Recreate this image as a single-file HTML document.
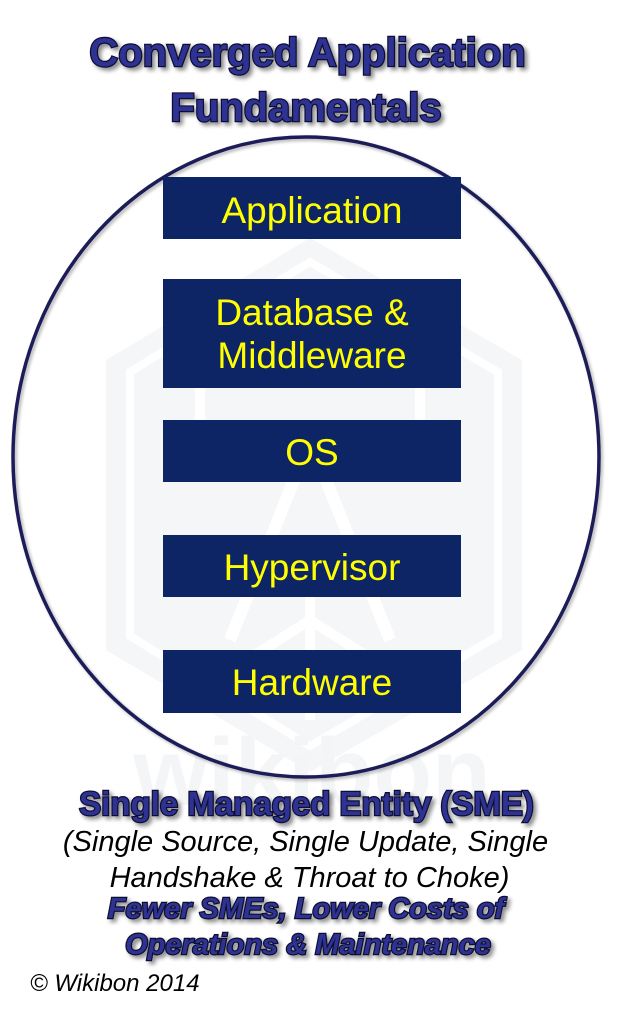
<!DOCTYPE html>
<html>
<head>
<meta charset="utf-8">
<style>
  html, body { margin:0; padding:0; background:#ffffff; }
  body { width:638px; height:1025px; overflow:hidden; }
  svg { display:block; }
</style>
</head>
<body>
<svg width="638" height="1025" viewBox="0 0 638 1025" xmlns="http://www.w3.org/2000/svg">
  <defs>
    <filter id="sh" x="-10%" y="-20%" width="130%" height="160%">
      <feGaussianBlur in="SourceAlpha" stdDeviation="2"/>
      <feOffset dx="3" dy="3" result="b"/>
      <feComponentTransfer><feFuncA type="linear" slope="0.45"/></feComponentTransfer>
      <feMerge><feMergeNode/><feMergeNode in="SourceGraphic"/></feMerge>
    </filter>
    <filter id="esh" x="-5%" y="-5%" width="110%" height="110%">
      <feGaussianBlur in="SourceAlpha" stdDeviation="1.5"/>
      <feOffset dx="2" dy="2"/>
      <feComponentTransfer><feFuncA type="linear" slope="0.3"/></feComponentTransfer>
      <feMerge><feMergeNode/><feMergeNode in="SourceGraphic"/></feMerge>
    </filter>
  </defs>

  <!-- faint watermark -->
  <g>
    <polygon points="310,238 522,360 522,650 310,772 106,650 106,360" fill="#f5f6f8"/>
    <polygon points="310,262 498,372 498,636 310,746 130,636 130,372" fill="none" stroke="#ffffff" stroke-width="8"/>
    <path d="M200,250 L200,420 M420,250 L420,420" stroke="#ffffff" stroke-width="10" fill="none"/>
    <path d="M230,640 L310,440 L390,640" stroke="#ffffff" stroke-width="12" fill="none"/>
    <path d="M310,590 L310,720 M200,690 L310,620 L420,690" stroke="#ffffff" stroke-width="10" fill="none"/>
    <text x="312" y="805" text-anchor="middle" font-family="Liberation Sans, Arial, sans-serif" font-weight="bold" font-size="96" fill="#f4f5f7">wikibon</text>
  </g>

  <!-- ellipse -->
  <ellipse cx="306" cy="457" rx="293" ry="320" fill="none" stroke="#1f1f58" stroke-width="3.5" filter="url(#esh)"/>

  <!-- boxes -->
  <g fill="#0d2564">
    <rect x="163" y="177" width="298" height="62"/>
    <rect x="163" y="279" width="298" height="109"/>
    <rect x="163" y="420" width="298" height="62"/>
    <rect x="163" y="535" width="298" height="62"/>
    <rect x="163" y="650" width="298" height="63"/>
  </g>
  <g font-family="Liberation Sans, Arial, sans-serif" font-size="37" fill="#ffff00" text-anchor="middle">
    <text x="312" y="223">Application</text>
    <text x="312" y="325">Database &amp;</text>
    <text x="312" y="368">Middleware</text>
    <text x="312" y="465">OS</text>
    <text x="312" y="580">Hypervisor</text>
    <text x="312" y="695">Hardware</text>
  </g>

  <!-- title -->
  <g font-family="Liberation Sans, Arial, sans-serif" font-weight="bold" font-size="40" fill="#2e3192" stroke="#101030" stroke-width="2.4" paint-order="stroke" text-anchor="middle" filter="url(#sh)">
    <text x="307.5" y="66">Converged Application</text>
    <text x="306" y="121">Fundamentals</text>
  </g>

  <!-- bottom text -->
  <g font-family="Liberation Sans, Arial, sans-serif" font-weight="bold" fill="#2e3192" stroke="#101030" stroke-width="2.4" paint-order="stroke" text-anchor="middle" filter="url(#sh)">
    <text x="306.5" y="815" font-size="33">Single Managed Entity (SME)</text>
    <text x="306" y="918" font-size="29" font-style="italic">Fewer SMEs, Lower Costs of</text>
    <text x="308" y="954" font-size="29" font-style="italic">Operations &amp; Maintenance</text>
  </g>
  <g font-family="Liberation Sans, Arial, sans-serif" font-style="italic" fill="#000000">
    <text x="305.5" y="851" font-size="29" text-anchor="middle">(Single Source, Single Update, Single</text>
    <text x="309.5" y="887" font-size="29" text-anchor="middle">Handshake &amp; Throat to Choke)</text>
    <text x="30" y="991" font-size="24">© Wikibon 2014</text>
  </g>
</svg>
</body>
</html>
